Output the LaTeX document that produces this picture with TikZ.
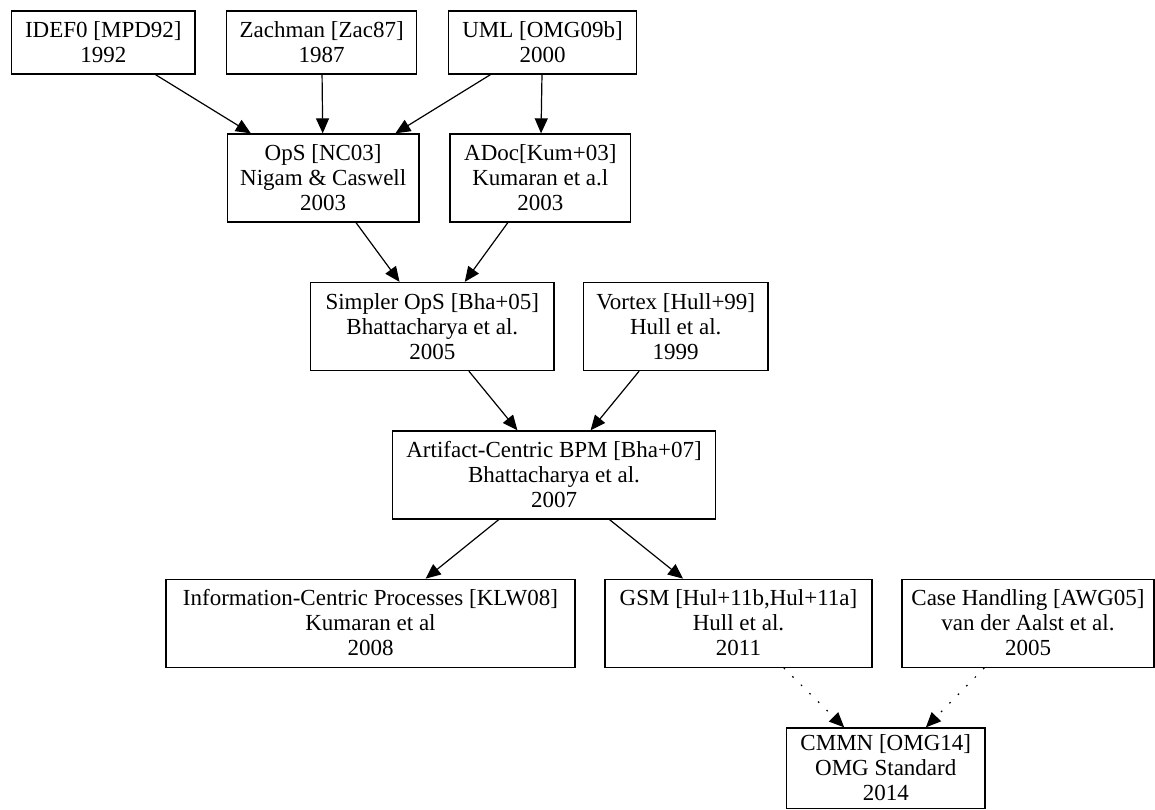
\documentclass[tikz,border=0pt]{standalone}
\usepackage{fontspec}
\setmainfont{Liberation Serif}
\usetikzlibrary{arrows.meta}
% strut giving every label line the same height and depth
\newcommand{\ls}{\rule[-5pt]{0pt}{25pt}}
\begin{document}
\begin{tikzpicture}[x=1pt,y=-1pt,
  box/.style={draw, line width=1.3pt, inner sep=0pt, align=center,
    font=\fontsize{23}{25}\selectfont},
  twoline/.style={box, minimum height=63pt},
  threeline/.style={box, minimum height=88pt},
  link/.style={line width=1.2pt, -{Triangle[length=15pt,width=13pt]}},
  weak/.style={link, dash pattern=on 1.6pt off 10.4pt}]
\useasboundingbox (0,0) rectangle (1155,810);

% top row: modelling foundations
\node[twoline, minimum width=183.3pt] (idef) at (103.35,42.5) {\ls IDEF0 [MPD92]\\\ls 1992};
\node[twoline, minimum width=190pt] (zach) at (321.7,42.5) {\ls Zachman [Zac87]\\\ls 1987};
\node[twoline, minimum width=188.4pt] (uml) at (542.5,42.5) {\ls UML [OMG09b]\\\ls 2000};

% early artifact-centric work
\node[threeline, minimum width=191.7pt] (ops) at (323.2,178) {\ls OpS [NC03]\\\ls Nigam \& Caswell\\\ls 2003};
\node[threeline, minimum width=180.7pt] (adoc) at (540.3,178) {\ls ADoc[Kum+03]\\\ls Kumaran et a.l\\\ls 2003};

\node[threeline, minimum width=243.3pt] (simpler) at (432.3,326.5) {\ls Simpler OpS [Bha+05]\\\ls Bhattacharya et al.\\\ls 2005};
\node[threeline, minimum width=184.8pt] (vortex) at (675.7,326.5) {\ls Vortex [Hull+99]\\\ls Hull et al.\\\ls 1999};

\node[threeline, minimum width=322.6pt] (acbpm) at (554,475) {\ls Artifact-Centric BPM [Bha+07]\\\ls Bhattacharya et al.\\\ls 2007};

\node[threeline, minimum width=409pt] (info) at (370.5,623.3) {\ls Information-Centric Processes [KLW08]\\\ls Kumaran et al\\\ls 2008};
\node[threeline, minimum width=267pt] (gsm) at (738.5,623.3) {\ls GSM [Hul+11b,Hul+11a]\\\ls Hull et al.\\\ls 2011};
\node[threeline, minimum width=252pt] (case) at (1028,623.3) {\ls Case Handling [AWG05]\\\ls van der Aalst et al.\\\ls 2005};

\node[box, minimum width=198.5pt, minimum height=80.5pt] (cmmn) at (885.75,768.25) {\ls CMMN [OMG14]\\\ls OMG Standard\\\ls 2014};

% influence edges
\draw[link] (idef) -- (ops);
\draw[link] (zach) -- (ops);
\draw[link] (uml) -- (ops);
\draw[link] (uml) -- (adoc);
\draw[link] (ops) -- (simpler);
\draw[link] (adoc) -- (simpler);
\draw[link] (simpler) -- (acbpm);
\draw[link] (vortex) -- (acbpm);
\draw[link] (acbpm) -- (info);
\draw[link] (acbpm) -- (gsm);
\draw[weak] (gsm) -- (cmmn);
\draw[weak] (case) -- (cmmn);
\end{tikzpicture}
\end{document}
